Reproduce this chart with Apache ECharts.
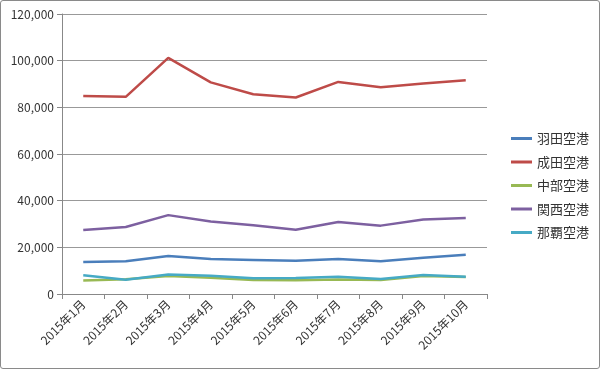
<!DOCTYPE html>
<html><head><meta charset="utf-8">
<script src="https://cdn.jsdelivr.net/npm/echarts@6/dist/echarts.min.js"></script>
<style>
html,body{margin:0;padding:0;background:#fff;}
#c{position:absolute;left:0;top:0;width:600px;height:369px;}
#b{position:absolute;left:0;top:0;width:598px;height:367px;border:1px solid #8a8a8a;border-radius:3px;pointer-events:none;}
</style></head>
<body><div id="c"></div><div id="b"></div>
<script>
const categories = ['2015年1月','2015年2月','2015年3月','2015年4月','2015年5月','2015年6月','2015年7月','2015年8月','2015年9月','2015年10月'];
const haneda = [13700,14000,16300,15000,14600,14200,15000,14000,15500,16800];
const narita = [84900,84500,101200,90700,85600,84200,90900,88600,90200,91600];
const chubu = [5800,6300,7700,7000,6000,5900,6200,6000,7700,7300];
const kansai = [27400,28700,33800,31100,29500,27500,30900,29300,31900,32600];
const naha = [8000,6100,8400,7800,6800,6900,7400,6400,8100,7400];
const seriesNames = ['羽田空港','成田空港','中部空港','関西空港','那覇空港'];
const colors = ['#4a7ebb','#be4b48','#98b954','#7d60a0','#46aac5'];
const yTicks = {min:0, max:120000, interval:20000};

const dataList = [haneda, narita, chubu, kansai, naha];
const font = '"Noto Sans CJK JP", sans-serif';
const chart = echarts.init(document.getElementById('c'));
chart.setOption({
  animation:false,
  color: colors,
  grid:{left:62, right:113, top:14, bottom:75, containLabel:false},
  legend:{
    orient:'vertical', left:506, top:126,
    itemWidth:21, itemHeight:3, itemGap:8.5, icon:'rect',
    textStyle:{fontFamily:font, fontSize:13, color:'#333', lineHeight:15},
    data: seriesNames
  },
  xAxis:{
    type:'category', data:categories, boundaryGap:true,
    axisLine:{lineStyle:{color:'#888', width:1}},
    axisTick:{show:true, alignWithLabel:false, length:5, lineStyle:{color:'#888'}},
    axisLabel:{rotate:45, fontFamily:font, fontSize:12, color:'#333', margin:8, interval:0}
  },
  yAxis:{
    type:'value', min:yTicks.min, max:yTicks.max, interval:yTicks.interval,
    axisLine:{show:true, lineStyle:{color:'#888', width:1}},
    axisTick:{show:true, length:5, lineStyle:{color:'#888'}},
    splitLine:{lineStyle:{color:'#999', width:1}},
    axisLabel:{fontFamily:font, fontSize:12, color:'#333', margin:8}
  },
  series: seriesNames.map((n,i)=>({
    name:n, type:'line', data:dataList[i], symbol:'none',
    lineStyle:{width:2.5, color:colors[i]}, z: i===4?3:2
  }))
});
</script></body></html>
